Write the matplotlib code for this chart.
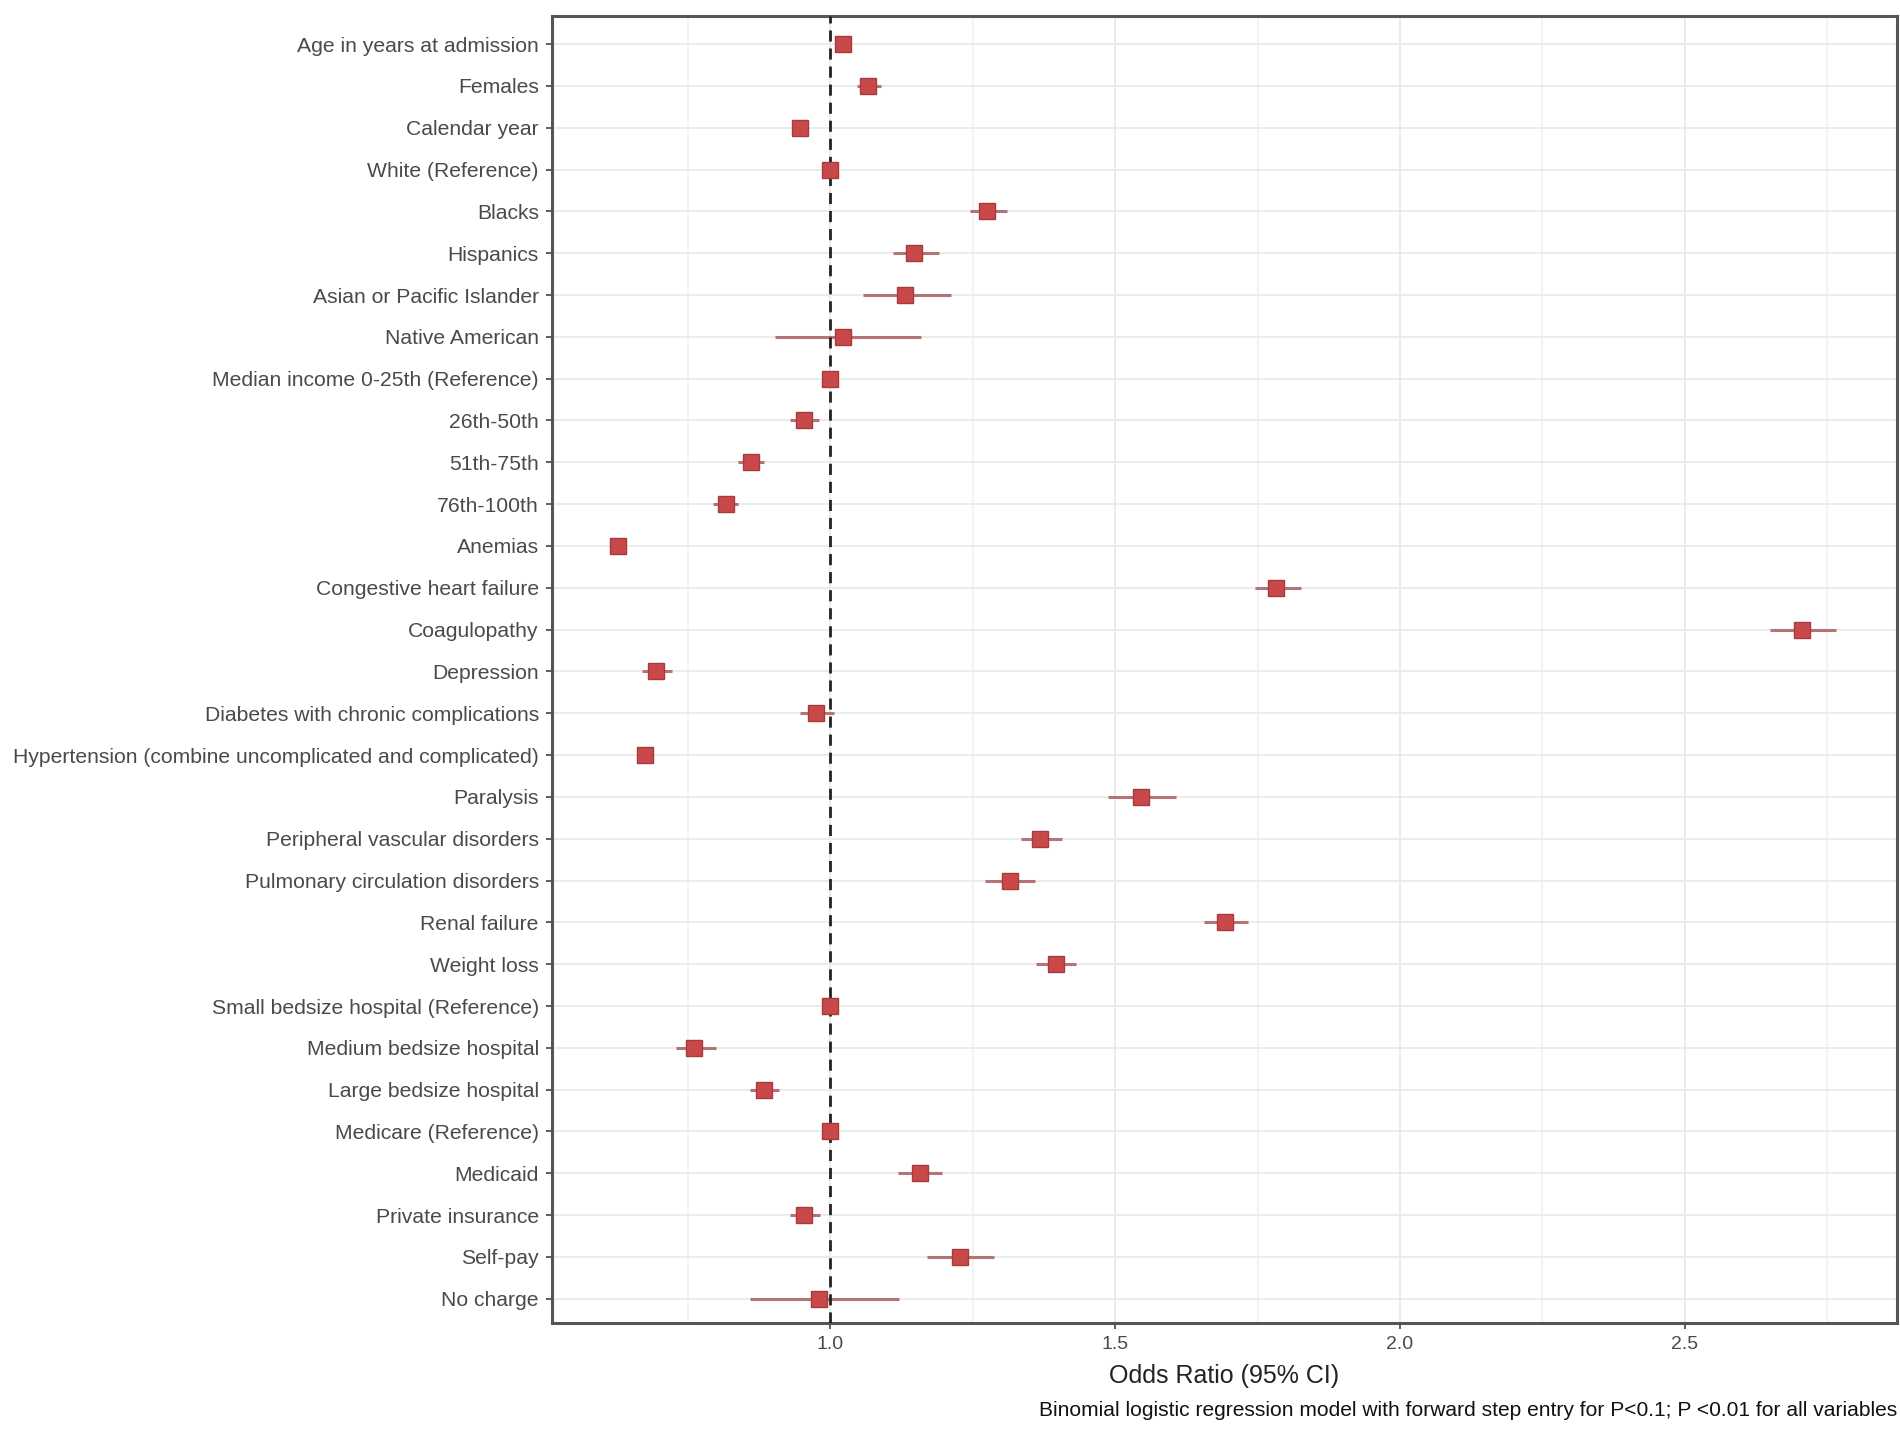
import matplotlib
matplotlib.use("Agg")
import matplotlib.pyplot as plt
import numpy as np

labels = [
    "Age in years at admission", "Females", "Calendar year", "White (Reference)",
    "Blacks", "Hispanics", "Asian or Pacific Islander", "Native American",
    "Median income 0-25th (Reference)", "26th-50th", "51th-75th", "76th-100th",
    "Anemias", "Congestive heart failure", "Coagulopathy", "Depression",
    "Diabetes with chronic complications",
    "Hypertension (combine uncomplicated and complicated)", "Paralysis",
    "Peripheral vascular disorders", "Pulmonary circulation disorders",
    "Renal failure", "Weight loss", "Small bedsize hospital (Reference)",
    "Medium bedsize hospital", "Large bedsize hospital", "Medicare (Reference)",
    "Medicaid", "Private insurance", "Self-pay", "No charge",
]
odds_ratio = [1.023, 1.067, 0.948, 1.000, 1.276, 1.147, 1.132, 1.023, 1.000,
              0.954, 0.862, 0.817, 0.628, 1.783, 2.705, 0.694, 0.975, 0.676,
              1.545, 1.369, 1.315, 1.693, 1.397, 1.000, 0.762, 0.884, 1.000,
              1.157, 0.954, 1.228, 0.981]
ci_low = [1.013, 1.048, 0.940, 1.000, 1.245, 1.110, 1.057, 0.904, 1.000,
          0.930, 0.839, 0.795, 0.620, 1.745, 2.649, 0.670, 0.947, 0.666,
          1.487, 1.335, 1.271, 1.656, 1.361, 1.000, 0.729, 0.860, 1.000,
          1.120, 0.929, 1.170, 0.860]
ci_high = [1.033, 1.090, 0.957, 1.000, 1.311, 1.192, 1.212, 1.160, 1.000,
           0.980, 0.884, 0.839, 0.636, 1.826, 2.765, 0.723, 1.007, 0.687,
           1.607, 1.407, 1.360, 1.734, 1.432, 1.000, 0.799, 0.911, 1.000,
           1.197, 0.982, 1.288, 1.121]
x_ticks = [1.0, 1.5, 2.0, 2.5]
x_minor = [0.75, 1.25, 1.75, 2.25, 2.75]

plt.rcParams['font.family'] = ['Liberation Sans', 'DejaVu Sans']

fig = plt.figure(figsize=(19, 14.32), dpi=100)
ax = fig.add_axes([0.2905, 0.0761, 0.9984 - 0.2905, 0.9888 - 0.0761])

y = np.arange(len(labels))
ax.set_xlim(0.512, 2.872)
ax.set_ylim(len(labels) - 1 + 0.58, -0.67)

# grid
for v in x_minor:
    ax.axvline(v, color='#f0f0f0', lw=1.1, zorder=0)
for v in x_ticks:
    ax.axvline(v, color='#e9e9e9', lw=1.3, zorder=0)
for yy in y:
    ax.axhline(yy, color='#ececec', lw=1.4, zorder=0)

ax.axvline(1.0, color='#222222', lw=2.0, ls=(0, (4, 2.5)), zorder=3)

ax.hlines(y, ci_low, ci_high, color='#b47476', lw=2.2, zorder=2)
ax.plot(odds_ratio, y, ls='none', marker='s', markersize=11.5,
        markerfacecolor='#c9494b', markeredgecolor='#a83a3c',
        markeredgewidth=1.0, zorder=4)

ax.set_yticks(y)
ax.set_yticklabels(labels, fontsize=15.2, color='#4a4a4a')
ax.set_xticks(x_ticks)
ax.set_xticklabels(["1.0", "1.5", "2.0", "2.5"], fontsize=14, color='#4a4a4a')
ax.tick_params(axis='y', length=4, width=1.2, color='#444444', pad=5.5)
ax.tick_params(axis='x', length=4, width=1.2, color='#444444', pad=5)

for s in ax.spines.values():
    s.set_color('#555555')
    s.set_linewidth(2.2)

ax.set_xlabel("Odds Ratio (95% CI)", fontsize=18, color='#222222', labelpad=8)
fig.text(0.9984, 0.0085,
         "Binomial logistic regression model with forward step entry for P<0.1; P <0.01 for all variables",
         ha='right', va='bottom', fontsize=15.1, color='#111111')

fig.savefig("out.png", dpi=100)
